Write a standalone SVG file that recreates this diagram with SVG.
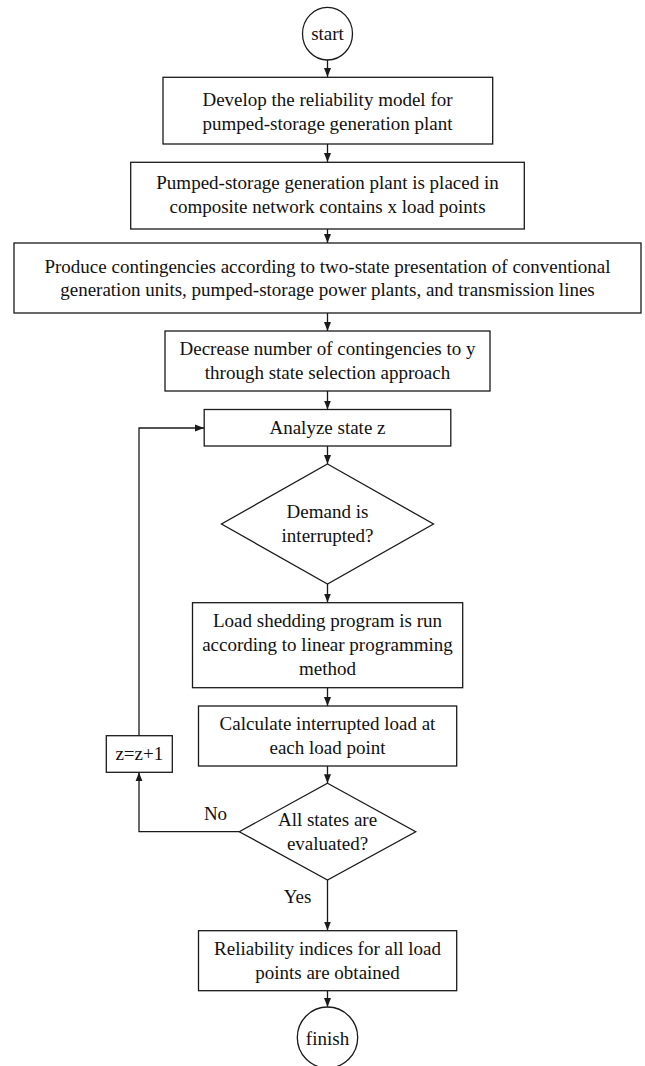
<svg xmlns="http://www.w3.org/2000/svg" width="645" height="1066" viewBox="0 0 645 1066">
<style>
.n{fill:#fff;stroke:#1a1a1a;stroke-width:1.3}
.t{font-family:"Liberation Serif","Times New Roman",serif;font-size:19px;fill:#111;text-anchor:middle}
.c{fill:none;stroke:#1a1a1a;stroke-width:1.3}
</style>
<defs>
<marker id="ah" markerWidth="9" markerHeight="8" refX="9" refY="4" orient="auto" markerUnits="userSpaceOnUse">
<path d="M0,0.5 L9,4 L0,7.5 z" fill="#1a1a1a"/>
</marker>
</defs>
<rect width="645" height="1066" fill="#fff"/>
<g id="connectors">
<line class="c" x1="327.5" y1="60" x2="327.5" y2="77" marker-end="url(#ah)"/>
<line class="c" x1="327.5" y1="144" x2="327.5" y2="162" marker-end="url(#ah)"/>
<line class="c" x1="327.5" y1="229" x2="327.5" y2="243" marker-end="url(#ah)"/>
<line class="c" x1="327.5" y1="313" x2="327.5" y2="331" marker-end="url(#ah)"/>
<line class="c" x1="327.5" y1="391" x2="327.5" y2="409.5" marker-end="url(#ah)"/>
<line class="c" x1="327.5" y1="446" x2="327.5" y2="464" marker-end="url(#ah)"/>
<line class="c" x1="327.5" y1="584" x2="327.5" y2="602.5" marker-end="url(#ah)"/>
<line class="c" x1="327.5" y1="688" x2="327.5" y2="706" marker-end="url(#ah)"/>
<line class="c" x1="327.5" y1="766" x2="327.5" y2="783.3" marker-end="url(#ah)"/>
<line class="c" x1="327.5" y1="880" x2="327.5" y2="930.5" marker-end="url(#ah)"/>
<line class="c" x1="327.5" y1="991" x2="327.5" y2="1007" marker-end="url(#ah)"/>
<polyline class="c" points="239.3,831.7 139,831.7 139,772.3" marker-end="url(#ah)"/>
<polyline class="c" points="139,735.7 139,428 204,428" marker-end="url(#ah)"/>
<text class="t" x="215.5" y="820">No</text>
<text class="t" x="297.5" y="903">Yes</text>
</g>
<g id="start">
<ellipse class="n" cx="327.5" cy="33.7" rx="25" ry="26.3"/>
<text class="t" x="327.5" y="40">start</text>
</g>
<g id="develop">
<rect class="n" x="163" y="77.3" width="329.7" height="66.7"/>
<text class="t" x="327.5" y="106">Develop the reliability model for</text>
<text class="t" x="327.5" y="129.5">pumped-storage generation plant</text>
</g>
<g id="placed">
<rect class="n" x="130.7" y="162.3" width="393.6" height="66.7"/>
<text class="t" x="327.5" y="189">Pumped-storage generation plant is placed in</text>
<text class="t" x="327.5" y="212.7">composite network contains x load points</text>
</g>
<g id="produce">
<rect class="n" x="14" y="243" width="627" height="70"/>
<text class="t" x="327.5" y="272.7">Produce contingencies according to two-state presentation of conventional</text>
<text class="t" x="327.5" y="296.3">generation units, pumped-storage power plants, and transmission lines</text>
</g>
<g id="decrease">
<rect class="n" x="165" y="331" width="325" height="60"/>
<text class="t" x="327.5" y="355">Decrease number of contingencies to y</text>
<text class="t" x="327.5" y="378.5">through state selection approach</text>
</g>
<g id="analyze">
<rect class="n" x="204.2" y="409.5" width="246.6" height="36.5"/>
<text class="t" x="327.5" y="434">Analyze state z</text>
</g>
<g id="demand">
<polygon class="n" points="327.5,464 433.5,524 327.5,584 221.5,524"/>
<text class="t" x="327.5" y="517.7">Demand is</text>
<text class="t" x="327.5" y="541.7">interrupted?</text>
</g>
<g id="shedding">
<rect class="n" x="192.5" y="602.7" width="270.2" height="85"/>
<text class="t" x="327.5" y="626.7">Load shedding program is run</text>
<text class="t" x="327.5" y="651">according to linear programming</text>
<text class="t" x="327.5" y="675.3">method</text>
</g>
<g id="calculate">
<rect class="n" x="198.5" y="706" width="258.2" height="60"/>
<text class="t" x="327.5" y="730">Calculate interrupted load at</text>
<text class="t" x="327.5" y="753.5">each load point</text>
</g>
<g id="evaluated">
<polygon class="n" points="327.5,783.3 415.7,831.7 327.5,880 239.3,831.7"/>
<text class="t" x="327.5" y="826">All states are</text>
<text class="t" x="327.5" y="850">evaluated?</text>
</g>
<g id="increment">
<rect class="n" x="106.3" y="735.7" width="66" height="36.6"/>
<text class="t" x="139.3" y="760">z=z+1</text>
</g>
<g id="indices">
<rect class="n" x="198.5" y="930.7" width="258.2" height="60"/>
<text class="t" x="327.5" y="955">Reliability indices for all load</text>
<text class="t" x="327.5" y="979">points are obtained</text>
</g>
<g id="finish">
<ellipse class="n" cx="327.5" cy="1037.5" rx="30.2" ry="30.5"/>
<text class="t" x="327.5" y="1045">finish</text>
</g>
</svg>
